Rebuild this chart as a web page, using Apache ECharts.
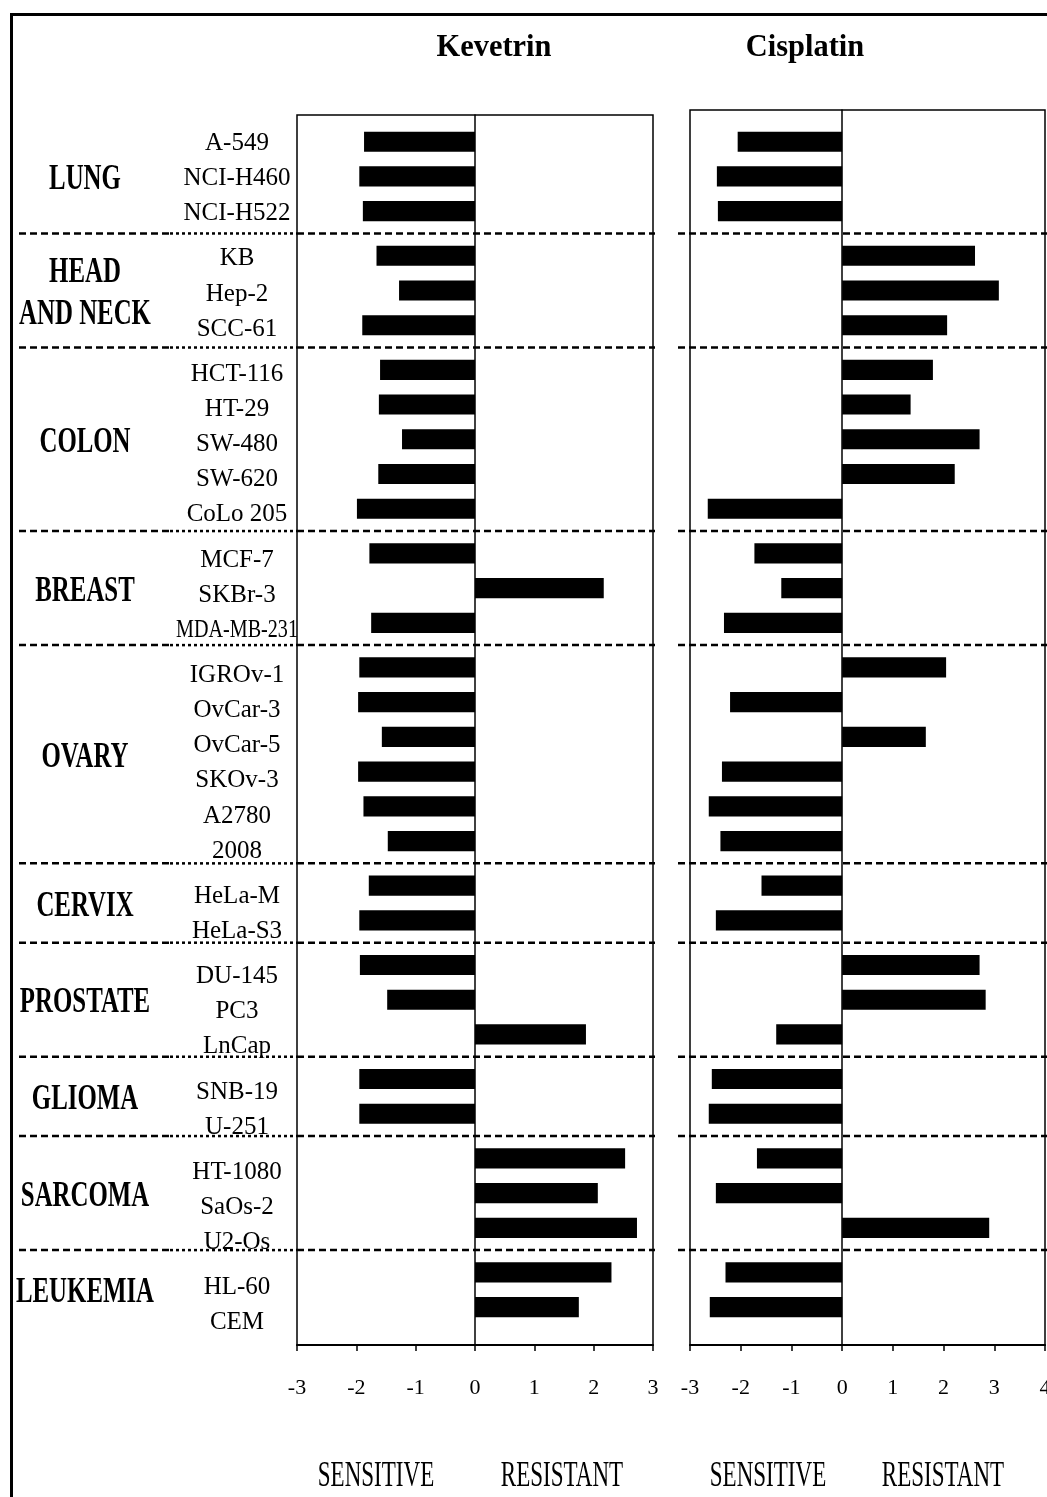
<!DOCTYPE html>
<html>
<head>
<meta charset="utf-8">
<script src="https://cdn.jsdelivr.net/npm/echarts@6/dist/echarts.min.js"></script>
<style>
html,body{margin:0;padding:0;background:#fff;overflow:hidden;}
#chart{width:1047px;height:1497px;}
</style>
</head>
<body>
<div id="chart"></div>
<script>
// ---------------- DATA ----------------
const groups = ['LUNG', 'HEAD\nAND NECK', 'COLON', 'BREAST', 'OVARY', 'CERVIX', 'PROSTATE', 'GLIOMA', 'SARCOMA', 'LEUKEMIA'];
const groupSizes = [3, 3, 5, 3, 6, 2, 3, 2, 3, 2];
const cellLines = ['A-549', 'NCI-H460', 'NCI-H522', 'KB', 'Hep-2', 'SCC-61', 'HCT-116', 'HT-29', 'SW-480', 'SW-620', 'CoLo 205',
  'MCF-7', 'SKBr-3', 'MDA-MB-231', 'IGROv-1', 'OvCar-3', 'OvCar-5', 'SKOv-3', 'A2780', '2008', 'HeLa-M', 'HeLa-S3',
  'DU-145', 'PC3', 'LnCap', 'SNB-19', 'U-251', 'HT-1080', 'SaOs-2', 'U2-Os', 'HL-60', 'CEM'];
const kevetrin = [-1.87, -1.95, -1.89, -1.66, -1.28, -1.90, -1.60, -1.62, -1.23, -1.63, -1.99,
  -1.78, 2.17, -1.75, -1.95, -1.97, -1.57, -1.97, -1.88, -1.47, -1.79, -1.95,
  -1.94, -1.48, 1.87, -1.95, -1.95, 2.53, 2.07, 2.73, 2.30, 1.75];
const cisplatin = [-2.06, -2.47, -2.45, 2.62, 3.09, 2.07, 1.79, 1.35, 2.71, 2.22, -2.65,
  -1.73, -1.20, -2.33, 2.05, -2.21, 1.65, -2.37, -2.63, -2.40, -1.59, -2.49,
  2.71, 2.83, -1.30, -2.57, -2.63, -1.68, -2.49, 2.90, -2.30, -2.61];
const kevTicks = [-3, -2, -1, 0, 1, 2, 3];
const cisTicks = [-3, -2, -1, 0, 1, 2, 3, 4];
const panelTitles = ['Kevetrin', 'Cisplatin'];
const sideLabels = ['SENSITIVE', 'RESISTANT'];

// ---------------- LAYOUT ----------------
const L = {
  firstRowY: 141.7, rowUnit: 34.74, groupGap: 0.283, bottomY: 1345,
  barH: 0.58, labelScale: 1.012, labelShift: 0.05, groupShift: 0.1,
  g0: {left: 13, top: 115, width: 284},
  g1: {left: 297, top: 115, width: 356},
  g2: {left: 690, top: 110, width: 355},
  groupX: 72, cellX: 224, cellMaxW: 122,
  serif: '"Liberation Serif", "Times New Roman", serif'
};

// row positions (in row units) built from the group structure
const pos = [];
const groupCenters = [];
const sepPos = [];
(function () {
  let p = 0;
  groupSizes.forEach((n, g) => {
    const start = p;
    for (let i = 0; i < n; i++) { pos.push(p); p += 1; }
    const last = p - 1;
    groupCenters.push((start + last) / 2);
    if (g < groupSizes.length - 1) sepPos.push(last + (1 + L.groupGap) / 2);
    p += L.groupGap;
  });
})();

function yRange(top) {
  const min = -(L.firstRowY - top) / L.rowUnit;
  const max = min + (L.bottomY - top) / L.rowUnit;
  return {min, max};
}

const measureCtx = document.createElement('canvas').getContext('2d');
function textWidth(t, font) { measureCtx.font = font; return measureCtx.measureText(t).width; }

const chart = echarts.init(document.getElementById('chart'), null, {renderer: 'canvas'});

function mkGrid(g) {
  return {left: g.left, top: g.top, width: g.width, height: L.bottomY - g.top, containLabel: false, outerBoundsMode: 'none'};
}

const r0 = yRange(L.g0.top), r1 = yRange(L.g1.top), r2 = yRange(L.g2.top);

function valueXAxis(idx, ticks) {
  return {
    gridIndex: idx, type: 'value', min: ticks[0], max: ticks[ticks.length - 1], interval: 1,
    axisLine: {show: true, onZero: false, lineStyle: {color: '#000', width: 2}},
    axisTick: {show: true, length: 6, lineStyle: {color: '#000', width: 1.5}},
    axisLabel: {color: '#000', fontFamily: L.serif, fontSize: 22, margin: 32, showMinLabel: true, showMaxLabel: true},
    splitLine: {show: false}
  };
}
function rowYAxis(idx, r, zeroLine) {
  return {
    gridIndex: idx, type: 'value', inverse: true, min: r.min, max: r.max,
    axisLine: {show: zeroLine, onZero: true, lineStyle: {color: '#000', width: 1.5}},
    axisTick: {show: false}, axisLabel: {show: false}, splitLine: {show: false}
  };
}

function barSeries(idx, values) {
  return {
    type: 'custom', xAxisIndex: idx, yAxisIndex: idx, z: 5,
    data: values.map((v, i) => [v, pos[i]]),
    encode: {x: 0, y: 1},
    renderItem: function (params, api) {
      const v = api.value(0), p = api.value(1);
      const a = api.coord([0, p]), b = api.coord([v, p]);
      const h = api.size([0, L.barH])[1];
      return {type: 'rect', shape: {x: Math.min(a[0], b[0]), y: a[1] - h / 2, width: Math.abs(b[0] - a[0]), height: h},
        style: {fill: '#000'}};
    }
  };
}

function sepSeries(idx, xmin, xmax, extL, extR) {
  return {
    type: 'custom', xAxisIndex: idx, yAxisIndex: idx, z: 3,
    data: sepPos.map(p => [0, p]), encode: {x: 0, y: 1},
    renderItem: function (params, api) {
      const p = api.value(1);
      const a = api.coord([xmin, p]), b = api.coord([xmax, p]);
      return {type: 'line', shape: {x1: a[0] - extL, y1: a[1], x2: b[0] + extR, y2: b[1]},
        style: {stroke: '#000', lineWidth: 2.5, lineDash: [7, 4]}};
    }
  };
}

function sideText(x, t) {
  return {type: 'text', x: x, y: 1477, scaleX: 0.64,
    style: {text: t, font: '36px ' + L.serif, fill: '#000', align: 'center', verticalAlign: 'middle'}};
}

const option = {
  animation: false,
  backgroundColor: '#fff',
  grid: [mkGrid(L.g0), Object.assign(mkGrid(L.g1), {show: true, borderColor: '#000', borderWidth: 1.5}),
    Object.assign(mkGrid(L.g2), {show: true, borderColor: '#000', borderWidth: 1.5})],
  xAxis: [
    {gridIndex: 0, type: 'value', min: 0, max: L.g0.width, show: false},
    valueXAxis(1, kevTicks),
    valueXAxis(2, cisTicks)
  ],
  yAxis: [rowYAxis(0, r0, false), rowYAxis(1, r1, true), rowYAxis(2, r2, true)],
  graphic: [
    {type: 'line', shape: {x1: 11, y1: 14.5, x2: 1047, y2: 14.5}, style: {stroke: '#000', lineWidth: 3}},
    {type: 'line', shape: {x1: 11.5, y1: 13, x2: 11.5, y2: 1497}, style: {stroke: '#000', lineWidth: 3}},
    {type: 'text', x: 494, y: 48, scaleX: 0.95, style: {text: panelTitles[0], font: 'bold 32px ' + L.serif, fill: '#000', align: 'center', verticalAlign: 'middle'}},
    {type: 'text', x: 805, y: 48, scaleX: 0.95, style: {text: panelTitles[1], font: 'bold 32px ' + L.serif, fill: '#000', align: 'center', verticalAlign: 'middle'}},
    sideText(376, sideLabels[0]),
    sideText(562, sideLabels[1]),
    sideText(768, sideLabels[0]),
    sideText(943, sideLabels[1])
  ],
  series: [
    // separators in label area: dashes then dots
    {
      type: 'custom', xAxisIndex: 0, yAxisIndex: 0, z: 3,
      data: sepPos.map(p => [0, p]), encode: {x: 0, y: 1},
      renderItem: function (params, api) {
        const p = api.value(1);
        const a = api.coord([6, p]), m = api.coord([157, p]), b = api.coord([L.g0.width, p]);
        return {type: 'group', children: [
          {type: 'line', shape: {x1: a[0], y1: a[1], x2: m[0], y2: m[1]}, style: {stroke: '#000', lineWidth: 2.5, lineDash: [7, 4]}},
          {type: 'line', shape: {x1: m[0], y1: m[1], x2: b[0], y2: b[1]}, style: {stroke: '#000', lineWidth: 2.5, lineDash: [3, 3]}}
        ]};
      }
    },
    sepSeries(1, kevTicks[0], kevTicks[kevTicks.length - 1], 0, 2),
    sepSeries(2, cisTicks[0], cisTicks[cisTicks.length - 1], 12, 2),
    barSeries(1, kevetrin),
    barSeries(2, cisplatin),
    // cell line labels
    {
      type: 'custom', xAxisIndex: 0, yAxisIndex: 0, z: 6,
      data: cellLines.map((n, i) => [L.cellX, pos[i] * L.labelScale + L.labelShift]), encode: {x: 0, y: 1},
      renderItem: function (params, api) {
        const c = api.coord([api.value(0), api.value(1)]);
        const name = cellLines[params.dataIndex];
        const font = '25px ' + L.serif;
        const w = textWidth(name, font);
        const s = w > L.cellMaxW ? L.cellMaxW / w : 1;
        return {type: 'text', x: c[0], y: c[1], scaleX: s,
          style: {text: name, font: font, fill: '#000', align: 'center', verticalAlign: 'middle'}};
      }
    },
    // group labels
    {
      type: 'custom', xAxisIndex: 0, yAxisIndex: 0, z: 6,
      data: groups.map((g, i) => [L.groupX, groupCenters[i] + L.groupShift]), encode: {x: 0, y: 1},
      renderItem: function (params, api) {
        const c = api.coord([api.value(0), api.value(1)]);
        return {type: 'text', x: c[0], y: c[1], scaleX: 0.71,
          style: {text: groups[params.dataIndex], font: 'bold 35px ' + L.serif, lineHeight: 42,
            fill: '#000', align: 'center', verticalAlign: 'middle'}};
      }
    }
  ]
};
chart.setOption(option);
</script>
</body>
</html>
